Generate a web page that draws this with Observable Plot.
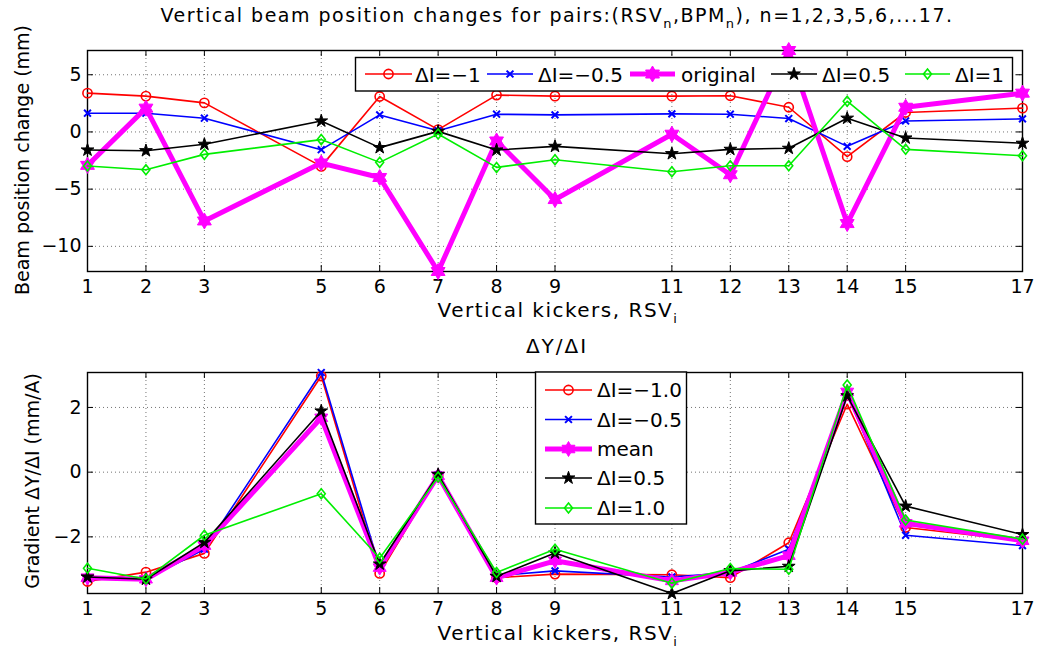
<!DOCTYPE html>
<html><head><meta charset="utf-8">
<script src="https://cdn.jsdelivr.net/npm/d3@7"></script>
<script src="https://cdn.jsdelivr.net/npm/@observablehq/plot@0.6"></script>
<style>
html,body{margin:0;padding:0;background:#fff;}
#wrap{position:relative;width:1049px;height:654px;font-family:"DejaVu Sans",sans-serif;overflow:hidden;}
#wrap > svg{position:absolute;left:0;}
</style></head><body><div id="wrap"></div>
<script>
// ---------- data ----------
const kickers = [1, 2, 3, 5, 6, 7, 8, 9, 11, 12, 13, 14, 15, 17];
const xTickLabels = kickers;
const topYTicks = [-10, -5, 0, 5];
const botYTicks = [-2, 0, 2];

// top panel: beam position change (mm)
const posDIm1  = [3.39, 3.13, 2.54, -3.01, 3.10, 0.20, 3.22, 3.13, 3.13, 3.16, 2.16, -2.16, 1.70, 2.08];
const posDIm05 = [1.64, 1.64, 1.20, -1.55, 1.49, 0.10, 1.55, 1.49, 1.58, 1.55, 1.17, -1.26, 0.96, 1.14];
const posOrig  = [-2.92, 2.08, -7.78, -2.72, -3.98, -12.2, -0.79, -5.91, -0.20, -3.74, 7.12, -8.01, 2.16, 3.39];
const posDIp05 = [-1.58, -1.64, -1.08, 0.96, -1.37, 0.05, -1.58, -1.26, -1.90, -1.52, -1.43, 1.20, -0.53, -0.99];
const posDIp1  = [-2.98, -3.30, -1.96, -0.67, -2.66, -0.18, -3.10, -2.43, -3.48, -2.95, -2.95, 2.69, -1.52, -2.08];

// bottom panel: gradient dY/dI (mm/A)
const gradDIm1  = [-3.38, -3.09, -2.51, 2.97, -3.13, -0.11, -3.26, -3.15, -3.17, -3.26, -2.18, 2.10, -1.71, -2.12];
const gradDIm05 = [-3.28, -3.31, -2.38, 3.08, -2.95, -0.08, -3.20, -3.05, -3.24, -3.10, -2.38, 2.43, -1.95, -2.27];
const gradMean  = [-3.26, -3.31, -2.27, 1.68, -2.95, -0.11, -3.26, -2.74, -3.36, -3.10, -2.58, 2.48, -1.58, -2.12];
const gradDIp05 = [-3.24, -3.31, -2.17, 1.89, -2.84, -0.07, -3.22, -2.50, -3.75, -3.05, -2.91, 2.36, -1.05, -1.93];
const gradDIp1  = [-2.97, -3.30, -1.95, -0.67, -2.66, -0.15, -3.10, -2.38, -3.43, -2.98, -3.00, 2.69, -1.48, -2.07];

const topLabels = ["ΔI=−1", "ΔI=−0.5", "original", "ΔI=0.5", "ΔI=1"];
const botLabels = ["ΔI=−1.0", "ΔI=−0.5", "mean", "ΔI=0.5", "ΔI=1.0"];

// ---------- symbols ----------
const hexagram = {draw(ctx, size) {
  const R = Math.sqrt(size / Math.PI), r = R / Math.sqrt(3);
  for (let i = 0; i < 12; i++) {
    const a = -Math.PI / 2 + i * Math.PI / 6, rr = i % 2 ? r : R;
    const x = rr * Math.cos(a), y = rr * Math.sin(a);
    if (i === 0) ctx.moveTo(x, y); else ctx.lineTo(x, y);
  }
  ctx.closePath();
}};
const rhombus = {draw(ctx, size) {
  const R = Math.sqrt(size / Math.PI), w = R * 0.8;
  ctx.moveTo(0, -R); ctx.lineTo(w, 0); ctx.lineTo(0, R); ctx.lineTo(-w, 0); ctx.closePath();
}};
const d3sym = {circle: d3.symbolCircle, times: d3.symbolTimes, star: d3.symbolStar};

function styles(big) {
  return [
    {color: "#ff0000", symbol: "circle", r: 4.6, fill: "none", lw: 1.6, mw: 1.6},
    {color: "#0000ff", symbol: "times", r: 3.2, fill: "none", lw: 1.6, mw: 2},
    {color: "#ff00ff", symbol: hexagram, r: big ? 8 : 7.5, fill: "#ff00ff", lw: 5, mw: 1},
    {color: "#000000", symbol: "star", r: 4, fill: "#000000", lw: 1.6, mw: 1},
    {color: "#00ee00", symbol: rhombus, r: 5, fill: "none", lw: 1.6, mw: 1.6}
  ];
}

const W = 1049, ML = 87, MR = 27;
const wrap = document.getElementById("wrap");

function panel(seriesValues, yTicks, height, marginTop, marginBottom, top, big) {
  const st = styles(big);
  const all = seriesValues.flat();
  const plotH = height - marginTop - marginBottom, plotW = W - ML - MR;
  const marks = [
    Plot.gridX(kickers, {stroke: "#000", strokeOpacity: 0.55, strokeDasharray: "1,3", strokeWidth: 1}),
    Plot.gridY(yTicks, {stroke: "#000", strokeOpacity: 0.55, strokeDasharray: "1,3", strokeWidth: 1}),
    Plot.frame({stroke: "#000", strokeWidth: 1.4}),
    Plot.tickX(kickers, {x: d => d, insetTop: plotH - 6, stroke: "#000"}),
    Plot.tickX(kickers, {x: d => d, insetBottom: plotH - 6, stroke: "#000"}),
    Plot.tickY(yTicks, {y: d => d, insetRight: plotW - 6, stroke: "#000"}),
    Plot.tickY(yTicks, {y: d => d, insetLeft: plotW - 6, stroke: "#000"}),
    Plot.axisX(xTickLabels, {tickSize: 0, tickPadding: 8, fontSize: 19, label: null}),
    Plot.axisY(yTicks, {tickSize: 0, tickPadding: 6, fontSize: 19, label: null})
  ];
  seriesValues.forEach((vals, i) => {
    const rows = kickers.map((k, j) => ({k, v: vals[j]}));
    const s = st[i];
    marks.push(Plot.line(rows, {x: "k", y: "v", stroke: s.color, strokeWidth: s.lw, strokeLinejoin: "round"}));
    marks.push(Plot.dot(rows, {x: "k", y: "v", symbol: s.symbol, r: s.r, stroke: s.color, fill: s.fill, strokeWidth: s.mw}));
  });
  const svg = Plot.plot({
    width: W, height, marginLeft: ML, marginRight: MR, marginTop, marginBottom,
    x: {type: "linear", domain: [kickers[0], kickers[kickers.length - 1]], label: null},
    y: {type: "linear", domain: d3.extent(all), label: null},
    style: {fontFamily: "DejaVu Sans", fontSize: "19px", color: "#000", background: "transparent", overflow: "visible"},
    marks
  });
  svg.style.top = top + "px";
  wrap.appendChild(svg);
}

panel([posDIm1, posDIm05, posOrig, posDIp05, posDIp1], topYTicks, 330, 50, 59, 0, true);
panel([gradDIm1, gradDIm05, gradMean, gradDIp05, gradDIp1], botYTicks, 324, 42, 61, 330, false);

// ---------- overlay: titles, labels, legends ----------
const NS = "http://www.w3.org/2000/svg";
const ov = document.createElementNS(NS, "svg");
ov.setAttribute("width", W); ov.setAttribute("height", 654);
ov.style.top = "0px";
ov.setAttribute("font-family", "DejaVu Sans");
function el(tag, attrs, parent) {
  const e = document.createElementNS(NS, tag);
  for (const k in attrs) e.setAttribute(k, attrs[k]);
  (parent || ov).appendChild(e);
  return e;
}
function richText(parts, attrs) {
  const t = el("text", attrs);
  let shifted = false;
  for (const p of parts) {
    const ts = el("tspan", {}, t);
    if (p.sub) { ts.setAttribute("dy", shifted ? 0 : 6); ts.setAttribute("font-size", "13"); shifted = true; }
    else if (shifted) { ts.setAttribute("dy", -6); shifted = false; }
    ts.textContent = p.t;
  }
  return t;
}
richText([{t: "Vertical beam position changes for pairs:(RSV"}, {t: "n", sub: true}, {t: ",BPM"}, {t: "n", sub: true}, {t: "), n=1,2,3,5,6,...17."}],
  {x: 557, y: 22, "text-anchor": "middle", "font-size": 19, "letter-spacing": 1.5, fill: "#000"});
richText([{t: "Vertical kickers, RSV"}, {t: "i", sub: true}], {x: 558, y: 317, "text-anchor": "middle", "font-size": 20, "letter-spacing": 1.5});
richText([{t: "Vertical kickers, RSV"}, {t: "i", sub: true}], {x: 558, y: 640, "text-anchor": "middle", "font-size": 20, "letter-spacing": 1.5});
el("text", {x: 557, y: 353, "text-anchor": "middle", "font-size": 20, "letter-spacing": 2}).textContent = "ΔY/ΔI";
el("text", {transform: "translate(28.5,160) rotate(-90)", "text-anchor": "middle", "font-size": 19}).textContent = "Beam position change (mm)";
el("text", {transform: "translate(39,481) rotate(-90)", "text-anchor": "middle", "font-size": 19}).textContent = "Gradient ΔY/ΔI (mm/A)";

function sample(s, x0, x1, cy) {
  el("line", {x1: x0, x2: x1, y1: cy, y2: cy, stroke: s.color, "stroke-width": s.lw});
  const type = typeof s.symbol === "string" ? d3sym[s.symbol] : s.symbol;
  el("path", {d: d3.symbol(type, Math.PI * s.r * s.r)(), transform: `translate(${(x0 + x1) / 2},${cy})`,
    stroke: s.color, fill: s.fill, "stroke-width": s.mw});
}
// top legend
{
  const st = styles(true);
  el("rect", {x: 355.5, y: 57.5, width: 657, height: 33.5, fill: "#fff", stroke: "#000", "stroke-width": 1.4});
  const lines = [[365, 412], [487, 533], [630, 675], [771, 817], [905, 950]];
  const texts = [415, 538, 681, 822, 955];
  st.forEach((s, i) => {
    sample(s, lines[i][0], lines[i][1], 74);
    el("text", {x: texts[i], y: 81.5, "font-size": 20}).textContent = topLabels[i];
  });
}
// bottom legend
{
  const st = styles(false);
  el("rect", {x: 535.5, y: 372, width: 151, height: 152, fill: "#fff", stroke: "#000", "stroke-width": 1.4});
  const ys = [390, 419.5, 449, 478, 508];
  st.forEach((s, i) => {
    sample(s, 545, 592, ys[i]);
    el("text", {x: 597, y: ys[i] + 7.3, "font-size": 20}).textContent = botLabels[i];
  });
}
wrap.appendChild(ov);
</script></body></html>
